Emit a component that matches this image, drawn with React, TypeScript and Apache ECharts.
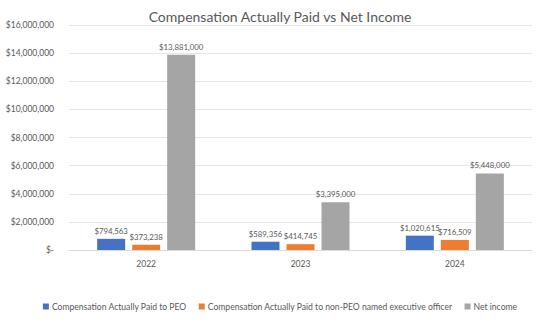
import React, { useEffect, useRef } from "react";
import * as echarts from "echarts";

const categories = ["2022", "2023", "2024"];
const peoValues = [794563, 589356, 1020615];
const neoValues = [373238, 414745, 716509];
const netIncomeValues = [13881000, 3395000, 5448000];
const seriesNames = [
  "Compensation Actually Paid to PEO",
  "Compensation Actually Paid to non-PEO named executive officer",
  "Net income",
];

const fmt = (v: number) => (v === 0 ? "$-" : "$" + v.toLocaleString("en-US"));
const FONT = "Lato, 'Noto Sans', sans-serif";
const TXT = "#595959";

export default function App() {
  const ref = useRef<HTMLDivElement>(null);
  useEffect(() => {
    const chart = echarts.init(ref.current!, undefined, { renderer: "svg" });
    const mk = (name: string, data: number[], color: string) => ({
      name,
      type: "bar",
      data,
      barWidth: 28,
      barGap: "25%",
      itemStyle: { color },
      label: {
        show: true,
        position: "top",
        distance: 4,
        formatter: (p: any) => fmt(p.value),
        color: TXT,
        fontSize: 7.8,
        fontFamily: FONT,
      },
    });
    chart.setOption({
      animation: false,
      backgroundColor: "#fff",
      title: {
        text: "Compensation Actually Paid vs Net Income",
        left: "center",
        top: 4,
        textStyle: { color: TXT, fontSize: 14, fontWeight: "normal", fontFamily: FONT },
      },
      grid: { left: 69, right: 28, top: 25, bottom: 75 },
      legend: {
        bottom: 9,
        left: "center",
        itemWidth: 6,
        itemHeight: 6,
        itemGap: 12,
        icon: "rect",
        textStyle: { color: TXT, fontSize: 8.6, fontFamily: FONT, padding: [0, 0, 0, -2] },
        data: seriesNames,
      },
      xAxis: {
        type: "category",
        data: categories,
        axisLine: { lineStyle: { color: "#d9d9d9" } },
        axisTick: { show: false },
        axisLabel: { color: TXT, fontSize: 8.5, fontFamily: FONT, margin: 9 },
      },
      yAxis: {
        type: "value",
        min: 0,
        max: 16000000,
        interval: 2000000,
        axisLine: { show: false },
        axisTick: { show: false },
        splitLine: { lineStyle: { color: "#e6e6e6" } },
        axisLabel: {
          color: TXT,
          fontSize: 8.5,
          fontFamily: FONT,
          margin: 15,
          formatter: (v: number) => fmt(v),
        },
      },
      series: [
        mk(seriesNames[0], peoValues, "#4472C4"),
        mk(seriesNames[1], neoValues, "#ED7D31"),
        mk(seriesNames[2], netIncomeValues, "#A5A5A5"),
      ],
    });
    return () => chart.dispose();
  }, []);
  return <div ref={ref} style={{ width: 560, height: 325, position: "absolute", left: 0, top: 0 }} />;
}
